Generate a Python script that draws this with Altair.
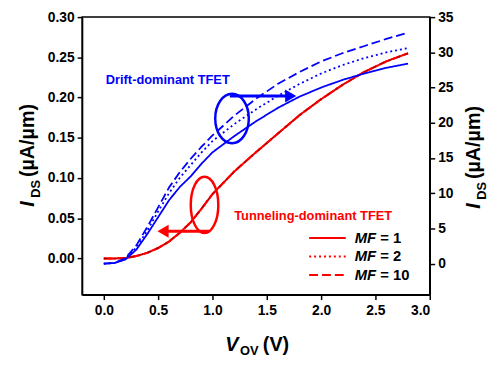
import altair as alt
import pandas as pd

# ---------------- data ----------------
vov = [0.0, 0.1, 0.2, 0.3, 0.4, 0.5, 0.6, 0.7, 0.8, 0.9, 1.0,
       1.2, 1.4, 1.6, 1.8, 2.0, 2.2, 2.4, 2.6, 2.8]
# tunneling-dominant TFET (left axis, uA/um) - all MF overlap
red_ids = [0.0, 0.0, 0.0005, 0.003, 0.007, 0.013, 0.021, 0.032, 0.045, 0.062, 0.080,
           0.108, 0.132, 0.155, 0.178, 0.198, 0.216, 0.232, 0.245, 0.255]
# drift-dominant TFET (right axis, uA/um)
blue_mf1 = [0.0, 0.1, 0.6, 2.0, 4.2, 6.6, 9.0, 10.9, 12.4, 14.2, 15.8,
            18.1, 20.2, 22.1, 23.7, 25.0, 26.1, 27.0, 27.8, 28.4]
blue_mf2 = [0.0, 0.1, 0.7, 2.3, 4.7, 7.4, 10.0, 12.2, 14.0, 15.8, 17.4,
            19.8, 21.9, 23.8, 25.5, 27.0, 28.2, 29.2, 30.0, 30.6]
blue_mf10 = [0.0, 0.1, 0.8, 2.6, 5.2, 8.0, 10.8, 13.0, 14.9, 16.6, 18.2,
             21.0, 23.4, 25.5, 27.2, 28.7, 29.9, 30.9, 31.9, 32.8]
mf_names = ["1", "2", "10"]
dash_styles = [[1, 0], [2, 3], [9, 4]]

x_ticks = [0.0, 0.5, 1.0, 1.5, 2.0, 2.5, 3.0]
left_ticks = [0.0, 0.05, 0.10, 0.15, 0.20, 0.25, 0.30]
right_ticks = [0, 5, 10, 15, 20, 25, 30, 35]

RED = "#ff0000"
BLUE = "#0000ff"
FONT = "Liberation Sans"

XDOM = [-0.2, 3.0]
LDOM = [-0.045, 0.30]
RDOM = [-4.4, 35]

red_df = pd.DataFrame([
    {"v": x, "i": y, "mf": m} for m in mf_names for x, y in zip(vov, red_ids)
])
blue_df = pd.DataFrame(
    [{"v": x, "i": y, "mf": "1"} for x, y in zip(vov, blue_mf1)] +
    [{"v": x, "i": y, "mf": "2"} for x, y in zip(vov, blue_mf2)] +
    [{"v": x, "i": y, "mf": "10"} for x, y in zip(vov, blue_mf10)]
)

xs = alt.Scale(domain=XDOM, nice=False, zero=False)
ls = alt.Scale(domain=LDOM, nice=False, zero=False)
rs = alt.Scale(domain=RDOM, nice=False, zero=False)
XAX = alt.Axis(values=x_ticks, format=".1f", title=None, labelPadding=4)
LAX = alt.Axis(values=left_ticks, format=".2f", title=None, orient="left", labelPadding=3)
RAX = alt.Axis(values=right_ticks, format="d", title=None, orient="right", labelPadding=3)
dash = alt.StrokeDash("mf:N", scale=alt.Scale(domain=mf_names, range=dash_styles), legend=None)


def X(field):
    return alt.X(field, scale=xs, axis=XAX)


def YL(field):
    return alt.Y(field, scale=ls, axis=LAX)


# ---------------- left (red) layer ----------------
red_lines = alt.Chart(red_df).mark_line(color=RED, strokeWidth=2).encode(
    x=X("v:Q"), y=YL("i:Q"), strokeDash=dash, detail="mf:N",
)
red_overlay = alt.Chart(red_df[red_df.mf == "10"]).mark_line(
    color="black", strokeWidth=0.8, opacity=0.55, strokeDash=[4, 5]
).encode(x=X("v:Q"), y=YL("i:Q"))

# annotations (left-axis data coordinates)
ell_df = pd.DataFrame({"x": [1.18, 0.927], "y": [0.174, 0.0666], "c": ["b", "r"]})
blue_ell = alt.Chart(ell_df[ell_df.c == "b"]).mark_point(
    shape="M -0.68 0 A 0.68 1 0 1 0 0.68 0 A 0.68 1 0 1 0 -0.68 0 Z",
    filled=False, stroke=BLUE, strokeWidth=2.5, size=2500, opacity=1
).encode(x=X("x:Q"), y=YL("y:Q"))
red_ell = alt.Chart(ell_df[ell_df.c == "r"]).mark_point(
    shape="M -0.49 0 A 0.49 1 0 1 0 0.49 0 A 0.49 1 0 1 0 -0.49 0 Z",
    filled=False, stroke=RED, strokeWidth=2.5, size=3249, opacity=1
).encode(x=X("x:Q"), y=YL("y:Q"))

arrow_df = pd.DataFrame({"x": [1.16, 0.973], "x2": [1.68, 0.57], "y": [0.202, 0.0339],
                         "hx": [1.72, 0.545], "c": ["b", "r"]})
blue_arrow = alt.Chart(arrow_df[arrow_df.c == "b"]).mark_rule(color=BLUE, strokeWidth=3).encode(
    x=X("x:Q"), x2="x2:Q", y=YL("y:Q"))
blue_head = alt.Chart(arrow_df[arrow_df.c == "b"]).mark_point(
    shape="triangle-right", filled=True, color=BLUE, size=170, opacity=1
).encode(x=X("hx:Q"), y=YL("y:Q"))
red_arrow = alt.Chart(arrow_df[arrow_df.c == "r"]).mark_rule(color=RED, strokeWidth=3).encode(
    x=X("x:Q"), x2="x2:Q", y=YL("y:Q"))
red_head = alt.Chart(arrow_df[arrow_df.c == "r"]).mark_point(
    shape="triangle-left", filled=True, color=RED, size=170, opacity=1
).encode(x=X("hx:Q"), y=YL("y:Q"))

note_df = pd.DataFrame({"x": [0.018, 1.2], "y": [0.2215, 0.0533],
                        "t": ["Drift-dominant TFET", "Tunneling-dominant TFET"], "c": ["b", "r"]})
blue_note = alt.Chart(note_df[note_df.c == "b"]).mark_text(
    font=FONT, fontWeight="bold", fontSize=13, color=BLUE, align="left", baseline="middle"
).encode(x=X("x:Q"), y=YL("y:Q"), text="t:N")
red_note = alt.Chart(note_df[note_df.c == "r"]).mark_text(
    font=FONT, fontWeight="bold", fontSize=13, color=RED, align="left", baseline="middle"
).encode(x=X("x:Q"), y=YL("y:Q"), text="t:N")

# custom legend
leg_df = pd.DataFrame({"x": [1.89] * 3, "x2": [2.227] * 3, "y": [0.0254, 0.0024, -0.0206],
                       "mf": mf_names, "tx": [2.309] * 3, "lab": ["= 1", "= 2", "= 10"], "m": ["MF"] * 3})
leg_lines = alt.Chart(leg_df).mark_rule(color=RED, strokeWidth=2).encode(
    x=X("x:Q"), x2="x2:Q", y=YL("y:Q"), strokeDash=dash)
leg_mf = alt.Chart(leg_df).mark_text(
    font=FONT, fontWeight="bold", fontStyle="italic", fontSize=15, color="black", align="left", baseline="middle"
).encode(x=X("tx:Q"), y=YL("y:Q"), text="m:N")
leg_lab = alt.Chart(leg_df).mark_text(
    font=FONT, fontWeight="bold", fontSize=15, color="black", align="left", baseline="middle", dx=26
).encode(x=X("tx:Q"), y=YL("y:Q"), text="lab:N")


# ---------------- axis titles as text pieces ----------------
def piece(txt, x, y, size, italic=False, angle=0):
    kw = dict(font=FONT, fontWeight="bold", fontSize=size, color="black",
              align="left", baseline="alphabetic", angle=angle)
    if italic:
        kw["fontStyle"] = "italic"
    return alt.Chart(pd.DataFrame({"t": [txt]})).mark_text(**kw).encode(
        x=alt.value(x), y=alt.value(y), text="t:N")


# plot origin is at page (83, 15)
titles = [
    # left title
    piece("I", -49, 192, 20, italic=True, angle=270),
    piece("DS", -43, 183, 13, angle=270),
    piece("(\u00b5A/\u00b5m)", -49, 162, 20, angle=270),
    # right title
    piece("I", 403, 194, 20, italic=True, angle=270),
    piece("DS", 409, 185, 13, angle=270),
    piece("(\u00b5A/\u00b5m)", 403, 164, 20, angle=270),
    # x title
    piece("V", 145, 338, 20, italic=True),
    piece("OV", 160, 342, 13),
    piece("(V)", 183, 338, 20),
]

left = alt.layer(red_lines, red_overlay, blue_ell, red_ell, blue_arrow, blue_head,
                 red_arrow, red_head, blue_note, red_note, leg_lines, leg_mf, leg_lab, *titles)

# ---------------- right (blue) layer ----------------
blue_lines = alt.Chart(blue_df).mark_line(color=BLUE, strokeWidth=1.8).encode(
    x=X("v:Q"),
    y=alt.Y("i:Q", scale=rs, axis=RAX),
    strokeDash=dash,
    detail="mf:N",
)
right = alt.layer(blue_lines)

chart = alt.layer(left, right).resolve_scale(y="independent").properties(
    width=352, height=281,
    padding={"left": 75, "top": 7, "right": 62, "bottom": 70},
    autosize="none",
).configure_view(
    stroke="black", strokeWidth=1.5
).configure_axis(
    labelFont=FONT, labelFontWeight="bold", labelFontSize=14, labelColor="black",
    tickColor="black", tickWidth=1.5, tickSize=5, domainColor="black", domainWidth=1.5,
    grid=False, labelOverlap=False,
)

chart.save("out.html", embed_options={"renderer": "svg", "actions": False})
